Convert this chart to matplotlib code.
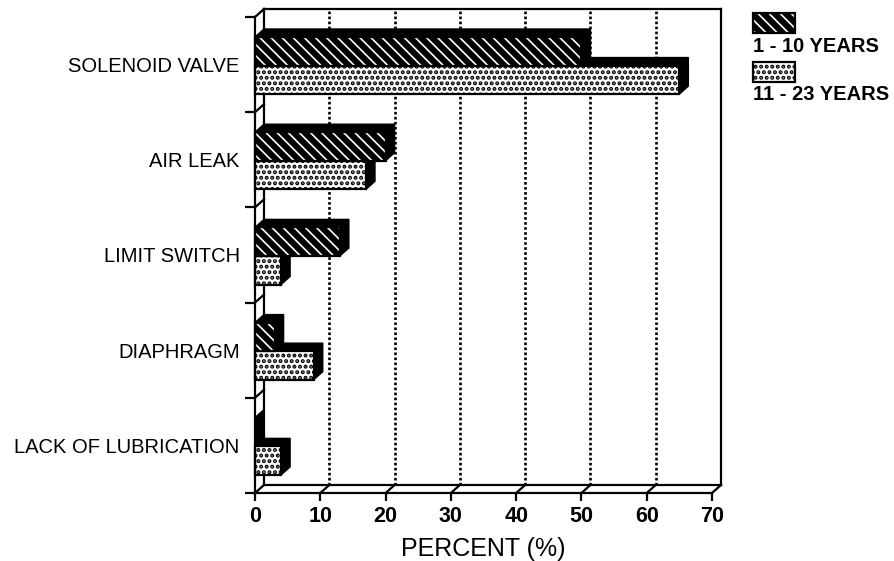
import matplotlib
matplotlib.use("Agg")
import matplotlib.pyplot as plt
from matplotlib.patches import Polygon, Rectangle

# Failure causes by valve age group (percent of failures)
categories = ["SOLENOID VALVE", "AIR LEAK", "LIMIT SWITCH", "DIAPHRAGM", "LACK OF LUBRICATION"]
series_names = ["1 - 10 YEARS", "11 - 23 YEARS"]
years_1_10 = [50, 20, 13, 3, 0]
years_11_23 = [65, 17, 4, 9, 4]
x_ticks = [0, 10, 20, 30, 40, 50, 60, 70]

plt.rcParams["font.family"] = ["Liberation Sans", "DejaVu Sans"]

W, H = 895, 561
fig = plt.figure(figsize=(W / 100, H / 100), dpi=100)
ax = fig.add_axes([255 / W, 1 - 493 / H, 457 / W, 476 / H])

n = len(categories)
xmax = x_ticks[-1]
ax.set_xlim(0, xmax)
ax.set_ylim(0, n)

# pseudo-3D depth offsets in data units
DX = 9 * xmax / 457
DY = 8 * n / 476
BAR_H = 0.30
LW = 1.6
# (face colour, hatch, hatch colour, hatch line width) for each series
STYLES = [("black", "\\\\\\", "white", 1.2), ("white", "...", "black", 2.0)]


def textured(xy, w, h, style, **kw):
    fc, hatch, hc, hlw = style
    with plt.rc_context({"hatch.linewidth": hlw}):
        p = Rectangle(xy, w, h, fc=fc, ec=hc, hatch=hatch, lw=0, **kw)
    if hasattr(p, "set_hatch_linewidth"):
        p.set_hatch_linewidth(hlw)
    return p


# back wall, floor and left wall outlines
frame = dict(color="black", lw=LW, clip_on=False, zorder=1, solid_capstyle="projecting")
ax.plot([DX, xmax + DX], [n + DY, n + DY], **frame)
ax.plot([xmax + DX, xmax + DX], [DY, n + DY], **frame)
ax.plot([DX, DX], [DY, n + DY], **frame)
ax.plot([DX, xmax + DX], [DY, DY], **frame)
ax.plot([0, DX], [n, n + DY], **frame)
ax.plot([0, DX], [0, DY], **frame)
ax.plot([xmax, xmax + DX], [0, DY], **frame)
for xt in x_ticks[1:-1]:
    ax.plot([xt, xt + DX], [0, DY], **frame)
    ax.plot([xt + DX, xt + DX], [DY, n + DY], color="black", lw=1.9,
            ls=(0, (1, 0.9)), clip_on=False, zorder=1)
for k in range(1, n):
    ax.plot([0, DX], [k, k + DY], **frame)


def bar3d(value, y0, style, z):
    h = BAR_H
    top = Polygon([(0, y0 + h), (value, y0 + h), (value + DX, y0 + h + DY), (DX, y0 + h + DY)],
                  closed=True, fc="black", ec="black", lw=1, zorder=z, clip_on=False)
    side = Polygon([(value, y0), (value + DX, y0 + DY), (value + DX, y0 + h + DY), (value, y0 + h)],
                   closed=True, fc="black", ec="black", lw=1, zorder=z, clip_on=False)
    ax.add_patch(top)
    ax.add_patch(side)
    if value > 0:
        ax.add_patch(textured((0, y0), value, h, style, zorder=z + 0.1, clip_on=False))
        ax.add_patch(Rectangle((0, y0), value, h, fill=False, ec="black", lw=LW,
                               zorder=z + 0.2, clip_on=False))


for k, (v1, v2) in enumerate(zip(years_1_10, years_11_23)):
    b = n - 1 - k
    bar3d(v2, b + 0.19, STYLES[1], 2 + k * 0.01)
    bar3d(v1, b + 0.49, STYLES[0], 3 + k * 0.01)

# front axes
for s in ["top", "right"]:
    ax.spines[s].set_visible(False)
for s in ["left", "bottom"]:
    ax.spines[s].set_linewidth(LW)
    ax.spines[s].set_zorder(5)
ax.set_facecolor("none")

ax.set_xticks(x_ticks)
ax.set_xticklabels([str(t) for t in x_ticks], fontsize=15.5, fontweight="bold")
ax.tick_params(axis="x", direction="out", length=6, width=LW, pad=3.5)
ax.set_yticks(range(n + 1))
ax.set_yticklabels([""] * (n + 1))
ax.tick_params(axis="y", which="major", direction="out", length=7, width=LW)
ax.set_yticks([n - 1 - k + 0.5 for k in range(n)], minor=True)
ax.set_yticklabels(categories, minor=True, fontsize=14.5)
ax.tick_params(axis="y", which="minor", length=0, pad=11)
ax.set_xlabel("PERCENT (%)", fontsize=18, labelpad=7)

# legend: swatch above its label
for ytop, style, name in zip([13, 62], STYLES, series_names):
    fig.add_artist(textured((753 / W, 1 - (ytop + 20) / H), 42 / W, 20 / H, style,
                            transform=fig.transFigure))
    fig.add_artist(Rectangle((753 / W, 1 - (ytop + 20) / H), 42 / W, 20 / H, fill=False,
                             ec="black", lw=LW, transform=fig.transFigure))
    fig.text(753 / W, 1 - (ytop + 33) / H, name, ha="left", va="center",
             fontsize=14.5, fontweight="bold")

fig.savefig("out.png", dpi=100)
